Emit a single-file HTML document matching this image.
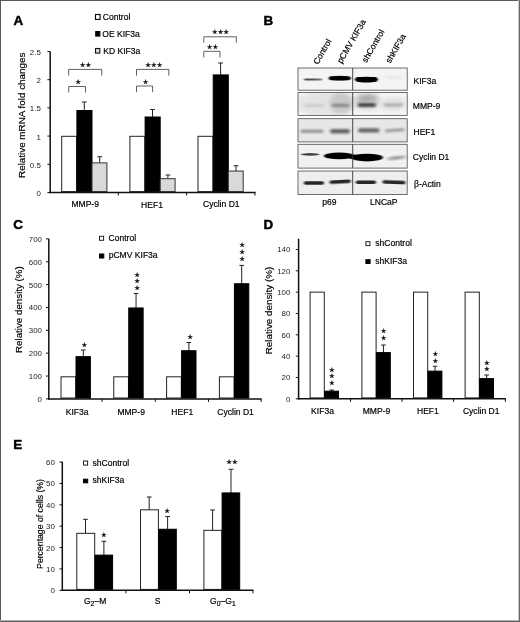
<!DOCTYPE html>
<html><head><meta charset="utf-8"><title>Figure</title>
<style>
html,body{margin:0;padding:0;background:#fff;}
#fig{position:relative;width:520px;height:622px;overflow:hidden;background:#fff;}
.fr{position:absolute;}
svg{display:block;filter:blur(0.35px);}
svg text{font-family:"Liberation Sans", "DejaVu Sans", sans-serif;}
svg text.st{font-family:"DejaVu Sans", sans-serif;}
</style></head>
<body>
<div id="fig">
<svg width="520" height="622" viewBox="0 0 520 622">
<rect x="0" y="0" width="520" height="622" fill="#fff"/>
<text x="13.6" y="25" font-size="13.4" text-anchor="start" font-weight="bold" fill="#000" stroke="#000" stroke-width="0.45">A</text>
<text x="263.4" y="24.7" font-size="13.4" text-anchor="start" font-weight="bold" fill="#000" stroke="#000" stroke-width="0.45">B</text>
<text x="13.2" y="229.2" font-size="13.4" text-anchor="start" font-weight="bold" fill="#000" stroke="#000" stroke-width="0.45">C</text>
<text x="263.4" y="229.2" font-size="13.4" text-anchor="start" font-weight="bold" fill="#000" stroke="#000" stroke-width="0.45">D</text>
<text x="13.2" y="449.2" font-size="13.4" text-anchor="start" font-weight="bold" fill="#000" stroke="#000" stroke-width="0.45">E</text>
<line x1="84.30" y1="102.00" x2="84.30" y2="111.01" stroke="#222" stroke-width="1"/>
<line x1="81.90" y1="102.00" x2="86.70" y2="102.00" stroke="#222" stroke-width="1"/>
<line x1="99.70" y1="156.75" x2="99.70" y2="163.56" stroke="#222" stroke-width="1"/>
<line x1="97.30" y1="156.75" x2="102.10" y2="156.75" stroke="#222" stroke-width="1"/>
<rect x="61.70" y="136.30" width="14.90" height="55.30" fill="#fff" stroke="#222" stroke-width="1"/>
<rect x="76.90" y="110.51" width="15.10" height="81.09" fill="#000" stroke="#000" stroke-width="1"/>
<rect x="92.00" y="162.86" width="14.90" height="28.74" fill="#d9d9d9" stroke="#333" stroke-width="1"/>
<line x1="152.50" y1="109.50" x2="152.50" y2="117.51" stroke="#222" stroke-width="1"/>
<line x1="150.10" y1="109.50" x2="154.90" y2="109.50" stroke="#222" stroke-width="1"/>
<line x1="167.90" y1="175.00" x2="167.90" y2="179.38" stroke="#222" stroke-width="1"/>
<line x1="165.50" y1="175.00" x2="170.30" y2="175.00" stroke="#222" stroke-width="1"/>
<rect x="129.90" y="136.30" width="14.90" height="55.30" fill="#fff" stroke="#222" stroke-width="1"/>
<rect x="145.10" y="117.01" width="15.10" height="74.59" fill="#000" stroke="#000" stroke-width="1"/>
<rect x="160.20" y="178.68" width="14.90" height="12.92" fill="#d9d9d9" stroke="#333" stroke-width="1"/>
<line x1="220.60" y1="63.00" x2="220.60" y2="75.42" stroke="#222" stroke-width="1"/>
<line x1="218.20" y1="63.00" x2="223.00" y2="63.00" stroke="#222" stroke-width="1"/>
<line x1="236.00" y1="165.75" x2="236.00" y2="171.75" stroke="#222" stroke-width="1"/>
<line x1="233.60" y1="165.75" x2="238.40" y2="165.75" stroke="#222" stroke-width="1"/>
<rect x="198.00" y="136.30" width="14.90" height="55.30" fill="#fff" stroke="#222" stroke-width="1"/>
<rect x="213.20" y="74.92" width="15.10" height="116.68" fill="#000" stroke="#000" stroke-width="1"/>
<rect x="228.30" y="171.05" width="14.90" height="20.55" fill="#d9d9d9" stroke="#333" stroke-width="1"/>
<line x1="50.20" y1="51.60" x2="50.20" y2="193.20" stroke="#111" stroke-width="1.5"/>
<line x1="49.50" y1="192.50" x2="255.50" y2="192.50" stroke="#111" stroke-width="1.5"/>
<line x1="47.40" y1="192.50" x2="50.20" y2="192.50" stroke="#111" stroke-width="1"/>
<text x="40.8" y="195.9" font-size="7.9" text-anchor="end" font-weight="normal" fill="#222">0</text>
<line x1="47.40" y1="164.30" x2="50.20" y2="164.30" stroke="#111" stroke-width="1"/>
<text x="40.8" y="167.70000000000002" font-size="7.9" text-anchor="end" font-weight="normal" fill="#222">0.5</text>
<line x1="47.40" y1="136.10" x2="50.20" y2="136.10" stroke="#111" stroke-width="1"/>
<text x="40.8" y="139.5" font-size="7.9" text-anchor="end" font-weight="normal" fill="#222">1</text>
<line x1="47.40" y1="107.90" x2="50.20" y2="107.90" stroke="#111" stroke-width="1"/>
<text x="40.8" y="111.30000000000001" font-size="7.9" text-anchor="end" font-weight="normal" fill="#222">1.5</text>
<line x1="47.40" y1="79.70" x2="50.20" y2="79.70" stroke="#111" stroke-width="1"/>
<text x="40.8" y="83.10000000000001" font-size="7.9" text-anchor="end" font-weight="normal" fill="#222">2</text>
<line x1="47.40" y1="51.50" x2="50.20" y2="51.50" stroke="#111" stroke-width="1"/>
<text x="40.8" y="54.9" font-size="7.9" text-anchor="end" font-weight="normal" fill="#222">2.5</text>
<line x1="118.30" y1="192.50" x2="118.30" y2="195.50" stroke="#111" stroke-width="1"/>
<line x1="186.60" y1="192.50" x2="186.60" y2="195.50" stroke="#111" stroke-width="1"/>
<line x1="255.00" y1="192.50" x2="255.00" y2="195.50" stroke="#111" stroke-width="1"/>
<text x="25.0" y="115.3" font-size="9.85" text-anchor="middle" font-weight="normal" fill="#000" transform="rotate(-90 25.0 115.3)" stroke="#000" stroke-width="0.18">Relative mRNA fold changes</text>
<text x="85.2" y="206.8" font-size="8.55" text-anchor="middle" font-weight="normal" fill="#000" stroke="#000" stroke-width="0.18">MMP-9</text>
<text x="152" y="208" font-size="8.55" text-anchor="middle" font-weight="normal" fill="#000" stroke="#000" stroke-width="0.18">HEF1</text>
<text x="221.3" y="207.3" font-size="8.55" text-anchor="middle" font-weight="normal" fill="#000" stroke="#000" stroke-width="0.18">Cyclin D1</text>
<rect x="95.50" y="14.50" width="4.60" height="4.90" fill="#fff" stroke="#000" stroke-width="1.1"/>
<text x="102.8" y="19.7" font-size="8.55" text-anchor="start" font-weight="normal" fill="#000" stroke="#000" stroke-width="0.18">Control</text>
<rect x="95.70" y="31.50" width="4.20" height="4.60" fill="#000" stroke="#000" stroke-width="1"/>
<text x="102.3" y="36.7" font-size="8.55" text-anchor="start" font-weight="normal" fill="#000" stroke="#000" stroke-width="0.18">OE KIF3a</text>
<rect x="95.50" y="48.50" width="4.30" height="4.60" fill="#d9d9d9" stroke="#111" stroke-width="1.1"/>
<text x="103.2" y="54" font-size="8.55" text-anchor="start" font-weight="normal" fill="#000" stroke="#000" stroke-width="0.18">KD KIF3a</text>
<polyline points="68.70,75.70 68.70,69.40 101.80,69.40 101.80,75.70" fill="none" stroke="#444" stroke-width="0.85"/>
<text x="85.5" y="67.1" font-size="6.4" text-anchor="middle" font-weight="normal" fill="#111" class="st" stroke="#111" stroke-width="0.25">★★</text>
<polyline points="68.70,92.50 68.70,86.50 85.50,86.50 85.50,92.50" fill="none" stroke="#444" stroke-width="0.85"/>
<text x="78" y="84.4" font-size="6.4" text-anchor="middle" font-weight="normal" fill="#111" class="st" stroke="#111" stroke-width="0.25">★</text>
<polyline points="136.50,75.70 136.50,69.40 168.80,69.40 168.80,75.70" fill="none" stroke="#444" stroke-width="0.85"/>
<text x="153.8" y="67.3" font-size="6.4" text-anchor="middle" font-weight="normal" fill="#111" class="st" stroke="#111" stroke-width="0.25">★★★</text>
<polyline points="136.50,92.20 136.50,86.00 152.60,86.00 152.60,92.20" fill="none" stroke="#444" stroke-width="0.85"/>
<text x="145.6" y="83.6" font-size="6.4" text-anchor="middle" font-weight="normal" fill="#111" class="st" stroke="#111" stroke-width="0.25">★</text>
<polyline points="203.80,42.60 203.80,36.80 236.30,36.80 236.30,42.60" fill="none" stroke="#444" stroke-width="0.85"/>
<text x="220.5" y="34.0" font-size="6.4" text-anchor="middle" font-weight="normal" fill="#111" class="st" stroke="#111" stroke-width="0.25">★★★</text>
<polyline points="203.80,57.50 203.80,51.30 220.00,51.30 220.00,57.50" fill="none" stroke="#444" stroke-width="0.85"/>
<text x="212.5" y="48.8" font-size="6.4" text-anchor="middle" font-weight="normal" fill="#111" class="st" stroke="#111" stroke-width="0.25">★★</text>
<defs><filter id="b1" x="-20%" y="-100%" width="140%" height="300%"><feGaussianBlur stdDeviation="0.9 0.7"/></filter><filter id="b2" x="-20%" y="-100%" width="140%" height="300%"><feGaussianBlur stdDeviation="1.6 1.2"/></filter><filter id="b3" x="-30%" y="-100%" width="160%" height="300%"><feGaussianBlur stdDeviation="2.5 2.2"/></filter></defs>
<clipPath id="c0"><rect x="298" y="68" width="109.19999999999999" height="22.200000000000003"/></clipPath>
<rect x="298" y="68" width="109.19999999999999" height="22.200000000000003" fill="#f4f4f4"/>
<g clip-path="url(#c0)">
<rect x="304.0" y="78.50" width="18.0" height="2.0" rx="1.0" fill="#333" opacity="0.85" filter="url(#b1)"/>
<ellipse cx="318.5" cy="79.50" rx="4.5" ry="0.8" fill="#f4f4f4" opacity="0.5" filter="url(#b2)"/>
<rect x="329.0" y="76.30" width="21.4" height="4.0" rx="2.0" fill="#000" opacity="1" filter="url(#b1)"/>
<ellipse cx="339.8" cy="78.20" rx="10.2" ry="2.4" fill="#000" opacity="0.9" filter="url(#b1)"/>
<rect x="355.5" y="77.10" width="21.9" height="4.8" rx="2.4" fill="#000" opacity="1" filter="url(#b1)"/>
<ellipse cx="366.4" cy="79.60" rx="10.9" ry="2.9" fill="#000" opacity="1" filter="url(#b1)"/>
<rect x="386.0" y="76.70" width="16.0" height="1.4" rx="0.7" fill="#999" opacity="0.3" filter="url(#b2)"/>
</g>
<rect x="298" y="68" width="109.19999999999999" height="22.200000000000003" fill="none" stroke="#555" stroke-width="0.85"/>
<line x1="352.70" y1="68.00" x2="352.70" y2="90.20" stroke="#333" stroke-width="0.9"/>
<clipPath id="c1"><rect x="298" y="92.5" width="109.19999999999999" height="22.900000000000006"/></clipPath>
<rect x="298" y="92.5" width="109.19999999999999" height="22.900000000000006" fill="#f4f4f4"/>
<g clip-path="url(#c1)">
<ellipse cx="326.0" cy="104.00" rx="30.0" ry="13.0" fill="#d8d8d8" opacity="0.55" filter="url(#b3)"/>
<ellipse cx="341.5" cy="103.00" rx="11.5" ry="11.0" fill="#b0b0b0" opacity="0.55" filter="url(#b3)"/>
<ellipse cx="367.5" cy="101.00" rx="12.5" ry="9.0" fill="#b8b8b8" opacity="0.55" filter="url(#b3)"/>
<ellipse cx="393.0" cy="104.00" rx="13.0" ry="7.0" fill="#d0d0d0" opacity="0.5" filter="url(#b3)"/>
<rect x="305.0" y="104.30" width="19.0" height="2.4" rx="1.2" fill="#aaa" opacity="0.5" filter="url(#b2)"/>
<rect x="331.5" y="103.80" width="18.0" height="3.2" rx="1.6" fill="#707070" opacity="0.7" filter="url(#b2)"/>
<rect x="357.5" y="103.10" width="18.5" height="3.8" rx="1.9" fill="#333" opacity="0.85" filter="url(#b2)"/>
<ellipse cx="367.0" cy="98.40" rx="10.0" ry="2.75" fill="#777" opacity="0.55" filter="url(#b3)"/>
<rect x="384.0" y="103.60" width="19.0" height="2.8" rx="1.4" fill="#888" opacity="0.6" filter="url(#b2)"/>
</g>
<rect x="298" y="92.5" width="109.19999999999999" height="22.900000000000006" fill="none" stroke="#555" stroke-width="0.85"/>
<line x1="352.70" y1="92.50" x2="352.70" y2="115.40" stroke="#333" stroke-width="0.9"/>
<clipPath id="c2"><rect x="298" y="118.7" width="109.19999999999999" height="23.200000000000003"/></clipPath>
<rect x="298" y="118.7" width="109.19999999999999" height="23.200000000000003" fill="#e7e7e7"/>
<g clip-path="url(#c2)">
<rect x="300.5" y="129.80" width="23.0" height="3.0" rx="1.5" fill="#666" opacity="0.7" filter="url(#b2)"/>
<rect x="330.0" y="128.90" width="20.0" height="4.6" rx="2.3" fill="#444" opacity="0.8" filter="url(#b2)"/>
<rect x="358.0" y="128.30" width="21.5" height="4.2" rx="2.1" fill="#444" opacity="0.8" filter="url(#b2)"/>
<rect x="385.0" y="129.00" width="19.5" height="2.4" rx="1.2" fill="#666" opacity="0.7" filter="url(#b2)" transform="rotate(-4 394.75 130.2)"/>
</g>
<rect x="298" y="118.7" width="109.19999999999999" height="23.200000000000003" fill="none" stroke="#555" stroke-width="0.85"/>
<line x1="352.70" y1="118.70" x2="352.70" y2="141.90" stroke="#333" stroke-width="0.9"/>
<clipPath id="c3"><rect x="298" y="144.3" width="109.19999999999999" height="23.799999999999983"/></clipPath>
<rect x="298" y="144.3" width="109.19999999999999" height="23.799999999999983" fill="#f1f1f1"/>
<g clip-path="url(#c3)">
<ellipse cx="310.2" cy="154.40" rx="9.2" ry="1.3" fill="#222" opacity="0.85" filter="url(#b1)"/>
<ellipse cx="339.2" cy="155.90" rx="15.2" ry="3.4" fill="#000" opacity="1" filter="url(#b1)"/>
<ellipse cx="338.5" cy="155.90" rx="11.5" ry="2.7" fill="#000" opacity="1" filter="url(#b1)"/>
<ellipse cx="367.0" cy="157.60" rx="16.0" ry="3.9" fill="#000" opacity="1" filter="url(#b1)"/>
<ellipse cx="366.0" cy="157.60" rx="12.0" ry="3.1" fill="#000" opacity="1" filter="url(#b1)"/>
<rect x="348.0" y="154.80" width="10.0" height="4.0" rx="2.0" fill="#000" opacity="1" filter="url(#b1)"/>
<ellipse cx="396.5" cy="157.90" rx="10.0" ry="1.3" fill="#555" opacity="0.75" filter="url(#b2)" transform="rotate(-6 396.5 157.9)"/>
</g>
<rect x="298" y="144.3" width="109.19999999999999" height="23.799999999999983" fill="none" stroke="#555" stroke-width="0.85"/>
<line x1="352.70" y1="144.30" x2="352.70" y2="168.10" stroke="#333" stroke-width="0.9"/>
<clipPath id="c4"><rect x="298" y="171" width="109.19999999999999" height="23.5"/></clipPath>
<rect x="298" y="171" width="109.19999999999999" height="23.5" fill="#eeeeee"/>
<g clip-path="url(#c4)">
<rect x="303.8" y="181.15" width="20.2" height="3.5" rx="1.75" fill="#1a1a1a" opacity="0.95" filter="url(#b1)"/>
<rect x="329.5" y="180.05" width="21.3" height="3.5" rx="1.75" fill="#1a1a1a" opacity="0.95" filter="url(#b1)" transform="rotate(-3 340.15 181.8)"/>
<rect x="355.8" y="180.55" width="20.2" height="3.5" rx="1.75" fill="#1a1a1a" opacity="0.95" filter="url(#b1)"/>
<rect x="382.5" y="180.60" width="22.9" height="3.4" rx="1.7" fill="#1a1a1a" opacity="0.95" filter="url(#b1)" transform="rotate(2 393.95 182.3)"/>
</g>
<rect x="298" y="171" width="109.19999999999999" height="23.5" fill="none" stroke="#555" stroke-width="0.85"/>
<line x1="352.70" y1="171.00" x2="352.70" y2="194.50" stroke="#333" stroke-width="0.9"/>
<text x="318.0" y="65.0" font-size="8.55" text-anchor="start" font-weight="normal" fill="#000" transform="rotate(-60 318.0 65.0)" stroke="#000" stroke-width="0.18">Control</text>
<text x="341.7" y="64.0" font-size="8.55" text-anchor="start" font-weight="normal" fill="#000" transform="rotate(-60 341.7 64.0)" stroke="#000" stroke-width="0.18">pCMV KIF3a</text>
<text x="366.5" y="63.3" font-size="8.55" text-anchor="start" font-weight="normal" fill="#000" transform="rotate(-60 366.5 63.3)" stroke="#000" stroke-width="0.18">shControl</text>
<text x="390.3" y="63.8" font-size="8.55" text-anchor="start" font-weight="normal" fill="#000" transform="rotate(-60 390.3 63.8)" stroke="#000" stroke-width="0.18">shKIF3a</text>
<text x="413.5" y="83.6" font-size="8.55" text-anchor="start" font-weight="normal" fill="#000" stroke="#000" stroke-width="0.18">KIF3a</text>
<text x="412.8" y="109" font-size="8.55" text-anchor="start" font-weight="normal" fill="#000" stroke="#000" stroke-width="0.18">MMP-9</text>
<text x="413.5" y="135" font-size="8.55" text-anchor="start" font-weight="normal" fill="#000" stroke="#000" stroke-width="0.18">HEF1</text>
<text x="412.8" y="160.2" font-size="8.55" text-anchor="start" font-weight="normal" fill="#000" stroke="#000" stroke-width="0.18">Cyclin D1</text>
<text x="414" y="186.5" font-size="8.55" text-anchor="start" font-weight="normal" fill="#000" stroke="#000" stroke-width="0.18">β-Actin</text>
<text x="329.4" y="205" font-size="8.55" text-anchor="middle" font-weight="normal" fill="#000" stroke="#000" stroke-width="0.18">p69</text>
<text x="383.8" y="205" font-size="8.55" text-anchor="middle" font-weight="normal" fill="#000" stroke="#000" stroke-width="0.18">LNCaP</text>
<line x1="83.30" y1="350.00" x2="83.30" y2="357.15" stroke="#222" stroke-width="1"/>
<line x1="81.00" y1="350.00" x2="85.60" y2="350.00" stroke="#222" stroke-width="1"/>
<rect x="61.00" y="376.81" width="14.70" height="21.19" fill="#fff" stroke="#222" stroke-width="1"/>
<rect x="76.00" y="356.65" width="14.40" height="41.35" fill="#000" stroke="#000" stroke-width="1"/>
<line x1="136.05" y1="293.50" x2="136.05" y2="308.46" stroke="#222" stroke-width="1"/>
<line x1="133.75" y1="293.50" x2="138.35" y2="293.50" stroke="#222" stroke-width="1"/>
<rect x="113.75" y="376.81" width="14.70" height="21.19" fill="#fff" stroke="#222" stroke-width="1"/>
<rect x="128.75" y="307.96" width="14.40" height="90.04" fill="#000" stroke="#000" stroke-width="1"/>
<line x1="188.90" y1="342.50" x2="188.90" y2="351.21" stroke="#222" stroke-width="1"/>
<line x1="186.60" y1="342.50" x2="191.20" y2="342.50" stroke="#222" stroke-width="1"/>
<rect x="166.60" y="376.81" width="14.70" height="21.19" fill="#fff" stroke="#222" stroke-width="1"/>
<rect x="181.60" y="350.71" width="14.40" height="47.29" fill="#000" stroke="#000" stroke-width="1"/>
<line x1="241.70" y1="265.40" x2="241.70" y2="284.23" stroke="#222" stroke-width="1"/>
<line x1="239.40" y1="265.40" x2="244.00" y2="265.40" stroke="#222" stroke-width="1"/>
<rect x="219.40" y="376.81" width="14.70" height="21.19" fill="#fff" stroke="#222" stroke-width="1"/>
<rect x="234.40" y="283.73" width="14.40" height="114.27" fill="#000" stroke="#000" stroke-width="1"/>
<line x1="48.80" y1="238.70" x2="48.80" y2="399.60" stroke="#111" stroke-width="1.5"/>
<line x1="48.10" y1="398.90" x2="261.50" y2="398.90" stroke="#111" stroke-width="1.5"/>
<line x1="46.00" y1="398.90" x2="48.80" y2="398.90" stroke="#111" stroke-width="1"/>
<text x="42" y="401.79999999999995" font-size="7.9" text-anchor="end" font-weight="normal" fill="#222">0</text>
<line x1="46.00" y1="376.04" x2="48.80" y2="376.04" stroke="#111" stroke-width="1"/>
<text x="42" y="378.93999999999994" font-size="7.9" text-anchor="end" font-weight="normal" fill="#222">100</text>
<line x1="46.00" y1="353.18" x2="48.80" y2="353.18" stroke="#111" stroke-width="1"/>
<text x="42" y="356.0799999999999" font-size="7.9" text-anchor="end" font-weight="normal" fill="#222">200</text>
<line x1="46.00" y1="330.32" x2="48.80" y2="330.32" stroke="#111" stroke-width="1"/>
<text x="42" y="333.21999999999997" font-size="7.9" text-anchor="end" font-weight="normal" fill="#222">300</text>
<line x1="46.00" y1="307.46" x2="48.80" y2="307.46" stroke="#111" stroke-width="1"/>
<text x="42" y="310.35999999999996" font-size="7.9" text-anchor="end" font-weight="normal" fill="#222">400</text>
<line x1="46.00" y1="284.60" x2="48.80" y2="284.60" stroke="#111" stroke-width="1"/>
<text x="42" y="287.49999999999994" font-size="7.9" text-anchor="end" font-weight="normal" fill="#222">500</text>
<line x1="46.00" y1="261.74" x2="48.80" y2="261.74" stroke="#111" stroke-width="1"/>
<text x="42" y="264.64" font-size="7.9" text-anchor="end" font-weight="normal" fill="#222">600</text>
<line x1="46.00" y1="238.88" x2="48.80" y2="238.88" stroke="#111" stroke-width="1"/>
<text x="42" y="241.78" font-size="7.9" text-anchor="end" font-weight="normal" fill="#222">700</text>
<line x1="102.00" y1="398.90" x2="102.00" y2="401.90" stroke="#111" stroke-width="1"/>
<line x1="155.30" y1="398.90" x2="155.30" y2="401.90" stroke="#111" stroke-width="1"/>
<line x1="208.50" y1="398.90" x2="208.50" y2="401.90" stroke="#111" stroke-width="1"/>
<line x1="261.20" y1="398.90" x2="261.20" y2="401.90" stroke="#111" stroke-width="1"/>
<text x="21.8" y="309.6" font-size="9.75" text-anchor="middle" font-weight="normal" fill="#000" transform="rotate(-90 21.8 309.6)" stroke="#000" stroke-width="0.18">Relative density (%)</text>
<text x="77.15" y="415.3" font-size="8.55" text-anchor="middle" font-weight="normal" fill="#000" stroke="#000" stroke-width="0.18">KIF3a</text>
<text x="131.15" y="415.3" font-size="8.55" text-anchor="middle" font-weight="normal" fill="#000" stroke="#000" stroke-width="0.18">MMP-9</text>
<text x="182.25" y="415.3" font-size="8.55" text-anchor="middle" font-weight="normal" fill="#000" stroke="#000" stroke-width="0.18">HEF1</text>
<text x="235.6" y="415.3" font-size="8.55" text-anchor="middle" font-weight="normal" fill="#000" stroke="#000" stroke-width="0.18">Cyclin D1</text>
<rect x="99.50" y="236.30" width="4.10" height="4.00" fill="#fff" stroke="#222" stroke-width="1"/>
<text x="108.5" y="240.6" font-size="8.55" text-anchor="start" font-weight="normal" fill="#000" stroke="#000" stroke-width="0.18">Control</text>
<rect x="99.50" y="254.00" width="4.30" height="4.00" fill="#000" stroke="#000" stroke-width="1"/>
<text x="108.7" y="258.2" font-size="8.55" text-anchor="start" font-weight="normal" fill="#000" stroke="#000" stroke-width="0.18">pCMV KIF3a</text>
<text x="84.25" y="346.5" font-size="6.4" text-anchor="middle" font-weight="normal" fill="#111" class="st" stroke="#111" stroke-width="0.25">★</text>
<text x="137" y="276.5" font-size="6.4" text-anchor="middle" font-weight="normal" fill="#111" class="st" stroke="#111" stroke-width="0.25">★</text>
<text x="137" y="283.4" font-size="6.4" text-anchor="middle" font-weight="normal" fill="#111" class="st" stroke="#111" stroke-width="0.25">★</text>
<text x="137" y="290.2" font-size="6.4" text-anchor="middle" font-weight="normal" fill="#111" class="st" stroke="#111" stroke-width="0.25">★</text>
<text x="190" y="339.0" font-size="6.4" text-anchor="middle" font-weight="normal" fill="#111" class="st" stroke="#111" stroke-width="0.25">★</text>
<text x="242.1" y="247.4" font-size="6.4" text-anchor="middle" font-weight="normal" fill="#111" class="st" stroke="#111" stroke-width="0.25">★</text>
<text x="242.1" y="254.4" font-size="6.4" text-anchor="middle" font-weight="normal" fill="#111" class="st" stroke="#111" stroke-width="0.25">★</text>
<text x="242.1" y="261.2" font-size="6.4" text-anchor="middle" font-weight="normal" fill="#111" class="st" stroke="#111" stroke-width="0.25">★</text>
<line x1="331.65" y1="390.00" x2="331.65" y2="391.69" stroke="#222" stroke-width="1"/>
<line x1="329.35" y1="390.00" x2="333.95" y2="390.00" stroke="#222" stroke-width="1"/>
<rect x="310.10" y="292.13" width="14.20" height="105.77" fill="#fff" stroke="#222" stroke-width="1"/>
<rect x="324.60" y="391.19" width="13.90" height="6.71" fill="#000" stroke="#000" stroke-width="1"/>
<text x="331.85" y="371.5" font-size="6.4" text-anchor="middle" font-weight="normal" fill="#111" class="st" stroke="#111" stroke-width="0.25">★</text>
<text x="331.85" y="378.25" font-size="6.4" text-anchor="middle" font-weight="normal" fill="#111" class="st" stroke="#111" stroke-width="0.25">★</text>
<text x="331.85" y="385.0" font-size="6.4" text-anchor="middle" font-weight="normal" fill="#111" class="st" stroke="#111" stroke-width="0.25">★</text>
<line x1="383.45" y1="345.00" x2="383.45" y2="353.09" stroke="#222" stroke-width="1"/>
<line x1="381.15" y1="345.00" x2="385.75" y2="345.00" stroke="#222" stroke-width="1"/>
<rect x="361.90" y="292.13" width="14.20" height="105.77" fill="#fff" stroke="#222" stroke-width="1"/>
<rect x="376.40" y="352.59" width="13.90" height="45.31" fill="#000" stroke="#000" stroke-width="1"/>
<text x="383.65" y="333.25" font-size="6.4" text-anchor="middle" font-weight="normal" fill="#111" class="st" stroke="#111" stroke-width="0.25">★</text>
<text x="383.65" y="340.0" font-size="6.4" text-anchor="middle" font-weight="normal" fill="#111" class="st" stroke="#111" stroke-width="0.25">★</text>
<line x1="435.05" y1="366.25" x2="435.05" y2="371.64" stroke="#222" stroke-width="1"/>
<line x1="432.75" y1="366.25" x2="437.35" y2="366.25" stroke="#222" stroke-width="1"/>
<rect x="413.50" y="292.13" width="14.20" height="105.77" fill="#fff" stroke="#222" stroke-width="1"/>
<rect x="428.00" y="371.14" width="13.90" height="26.76" fill="#000" stroke="#000" stroke-width="1"/>
<text x="435.25" y="355.75" font-size="6.4" text-anchor="middle" font-weight="normal" fill="#111" class="st" stroke="#111" stroke-width="0.25">★</text>
<text x="435.25" y="362.75" font-size="6.4" text-anchor="middle" font-weight="normal" fill="#111" class="st" stroke="#111" stroke-width="0.25">★</text>
<line x1="486.65" y1="375.00" x2="486.65" y2="379.11" stroke="#222" stroke-width="1"/>
<line x1="484.35" y1="375.00" x2="488.95" y2="375.00" stroke="#222" stroke-width="1"/>
<rect x="465.10" y="292.13" width="14.20" height="105.77" fill="#fff" stroke="#222" stroke-width="1"/>
<rect x="479.60" y="378.61" width="13.90" height="19.29" fill="#000" stroke="#000" stroke-width="1"/>
<text x="486.85" y="364.5" font-size="6.4" text-anchor="middle" font-weight="normal" fill="#111" class="st" stroke="#111" stroke-width="0.25">★</text>
<text x="486.85" y="371.25" font-size="6.4" text-anchor="middle" font-weight="normal" fill="#111" class="st" stroke="#111" stroke-width="0.25">★</text>
<line x1="298.60" y1="238.70" x2="298.60" y2="399.50" stroke="#111" stroke-width="1.5"/>
<line x1="297.90" y1="398.80" x2="505.80" y2="398.80" stroke="#111" stroke-width="1.5"/>
<line x1="295.80" y1="398.80" x2="298.60" y2="398.80" stroke="#111" stroke-width="1"/>
<text x="290.4" y="401.7" font-size="7.9" text-anchor="end" font-weight="normal" fill="#222">0</text>
<line x1="295.80" y1="377.47" x2="298.60" y2="377.47" stroke="#111" stroke-width="1"/>
<text x="290.4" y="380.37" font-size="7.9" text-anchor="end" font-weight="normal" fill="#222">20</text>
<line x1="295.80" y1="356.14" x2="298.60" y2="356.14" stroke="#111" stroke-width="1"/>
<text x="290.4" y="359.03999999999996" font-size="7.9" text-anchor="end" font-weight="normal" fill="#222">40</text>
<line x1="295.80" y1="334.81" x2="298.60" y2="334.81" stroke="#111" stroke-width="1"/>
<text x="290.4" y="337.71" font-size="7.9" text-anchor="end" font-weight="normal" fill="#222">60</text>
<line x1="295.80" y1="313.48" x2="298.60" y2="313.48" stroke="#111" stroke-width="1"/>
<text x="290.4" y="316.38" font-size="7.9" text-anchor="end" font-weight="normal" fill="#222">80</text>
<line x1="295.80" y1="292.15" x2="298.60" y2="292.15" stroke="#111" stroke-width="1"/>
<text x="290.4" y="295.05" font-size="7.9" text-anchor="end" font-weight="normal" fill="#222">100</text>
<line x1="295.80" y1="270.82" x2="298.60" y2="270.82" stroke="#111" stroke-width="1"/>
<text x="290.4" y="273.72" font-size="7.9" text-anchor="end" font-weight="normal" fill="#222">120</text>
<line x1="295.80" y1="249.49" x2="298.60" y2="249.49" stroke="#111" stroke-width="1"/>
<text x="290.4" y="252.39000000000001" font-size="7.9" text-anchor="end" font-weight="normal" fill="#222">140</text>
<line x1="350.50" y1="398.80" x2="350.50" y2="401.80" stroke="#111" stroke-width="1"/>
<line x1="402.00" y1="398.80" x2="402.00" y2="401.80" stroke="#111" stroke-width="1"/>
<line x1="453.50" y1="398.80" x2="453.50" y2="401.80" stroke="#111" stroke-width="1"/>
<line x1="505.40" y1="398.80" x2="505.40" y2="401.80" stroke="#111" stroke-width="1"/>
<text x="272.4" y="310.5" font-size="9.85" text-anchor="middle" font-weight="normal" fill="#000" transform="rotate(-90 272.4 310.5)" stroke="#000" stroke-width="0.18">Relative density (%)</text>
<text x="322.5" y="414.4" font-size="8.55" text-anchor="middle" font-weight="normal" fill="#000" stroke="#000" stroke-width="0.18">KIF3a</text>
<text x="376.5" y="414.4" font-size="8.55" text-anchor="middle" font-weight="normal" fill="#000" stroke="#000" stroke-width="0.18">MMP-9</text>
<text x="427.9" y="414.4" font-size="8.55" text-anchor="middle" font-weight="normal" fill="#000" stroke="#000" stroke-width="0.18">HEF1</text>
<text x="481.2" y="414.4" font-size="8.55" text-anchor="middle" font-weight="normal" fill="#000" stroke="#000" stroke-width="0.18">Cyclin D1</text>
<rect x="365.90" y="241.70" width="4.00" height="3.90" fill="#fff" stroke="#222" stroke-width="1"/>
<text x="375.25" y="246.1" font-size="8.55" text-anchor="start" font-weight="normal" fill="#000" stroke="#000" stroke-width="0.18">shControl</text>
<rect x="365.90" y="259.70" width="4.20" height="3.80" fill="#000" stroke="#000" stroke-width="1"/>
<text x="375.25" y="264.3" font-size="8.55" text-anchor="start" font-weight="normal" fill="#000" stroke="#000" stroke-width="0.18">shKIF3a</text>
<line x1="85.50" y1="519.30" x2="85.50" y2="534.03" stroke="#222" stroke-width="1"/>
<line x1="83.10" y1="519.30" x2="87.90" y2="519.30" stroke="#222" stroke-width="1"/>
<line x1="103.90" y1="541.30" x2="103.90" y2="555.61" stroke="#222" stroke-width="1"/>
<line x1="101.50" y1="541.30" x2="106.30" y2="541.30" stroke="#222" stroke-width="1"/>
<rect x="76.80" y="533.33" width="17.90" height="56.07" fill="#fff" stroke="#222" stroke-width="1"/>
<rect x="95.00" y="555.11" width="17.60" height="34.29" fill="#000" stroke="#000" stroke-width="1"/>
<line x1="149.20" y1="497.00" x2="149.20" y2="510.52" stroke="#222" stroke-width="1"/>
<line x1="146.80" y1="497.00" x2="151.60" y2="497.00" stroke="#222" stroke-width="1"/>
<line x1="167.60" y1="516.60" x2="167.60" y2="529.75" stroke="#222" stroke-width="1"/>
<line x1="165.20" y1="516.60" x2="170.00" y2="516.60" stroke="#222" stroke-width="1"/>
<rect x="140.50" y="509.82" width="17.90" height="79.58" fill="#fff" stroke="#222" stroke-width="1"/>
<rect x="158.70" y="529.25" width="17.60" height="60.15" fill="#000" stroke="#000" stroke-width="1"/>
<line x1="212.60" y1="510.00" x2="212.60" y2="531.04" stroke="#222" stroke-width="1"/>
<line x1="210.20" y1="510.00" x2="215.00" y2="510.00" stroke="#222" stroke-width="1"/>
<line x1="231.00" y1="469.30" x2="231.00" y2="493.43" stroke="#222" stroke-width="1"/>
<line x1="228.60" y1="469.30" x2="233.40" y2="469.30" stroke="#222" stroke-width="1"/>
<rect x="203.90" y="530.34" width="17.90" height="59.06" fill="#fff" stroke="#222" stroke-width="1"/>
<rect x="222.10" y="492.93" width="17.60" height="96.47" fill="#000" stroke="#000" stroke-width="1"/>
<line x1="62.30" y1="461.70" x2="62.30" y2="591.00" stroke="#111" stroke-width="1.5"/>
<line x1="61.60" y1="590.30" x2="253.50" y2="590.30" stroke="#111" stroke-width="1.5"/>
<line x1="59.50" y1="590.30" x2="62.30" y2="590.30" stroke="#111" stroke-width="1"/>
<text x="54.8" y="593.3" font-size="7.9" text-anchor="end" font-weight="normal" fill="#222">0</text>
<line x1="59.50" y1="568.93" x2="62.30" y2="568.93" stroke="#111" stroke-width="1"/>
<text x="54.8" y="571.93" font-size="7.9" text-anchor="end" font-weight="normal" fill="#222">10</text>
<line x1="59.50" y1="547.56" x2="62.30" y2="547.56" stroke="#111" stroke-width="1"/>
<text x="54.8" y="550.56" font-size="7.9" text-anchor="end" font-weight="normal" fill="#222">20</text>
<line x1="59.50" y1="526.19" x2="62.30" y2="526.19" stroke="#111" stroke-width="1"/>
<text x="54.8" y="529.1899999999999" font-size="7.9" text-anchor="end" font-weight="normal" fill="#222">30</text>
<line x1="59.50" y1="504.82" x2="62.30" y2="504.82" stroke="#111" stroke-width="1"/>
<text x="54.8" y="507.81999999999994" font-size="7.9" text-anchor="end" font-weight="normal" fill="#222">40</text>
<line x1="59.50" y1="483.45" x2="62.30" y2="483.45" stroke="#111" stroke-width="1"/>
<text x="54.8" y="486.44999999999993" font-size="7.9" text-anchor="end" font-weight="normal" fill="#222">50</text>
<line x1="59.50" y1="462.08" x2="62.30" y2="462.08" stroke="#111" stroke-width="1"/>
<text x="54.8" y="465.0799999999999" font-size="7.9" text-anchor="end" font-weight="normal" fill="#222">60</text>
<line x1="125.90" y1="590.30" x2="125.90" y2="593.30" stroke="#111" stroke-width="1"/>
<line x1="189.50" y1="590.30" x2="189.50" y2="593.30" stroke="#111" stroke-width="1"/>
<line x1="253.00" y1="590.30" x2="253.00" y2="593.30" stroke="#111" stroke-width="1"/>
<text x="43.1" y="524" font-size="8.7" text-anchor="middle" font-weight="normal" fill="#000" transform="rotate(-90 43.1 524)" stroke="#000" stroke-width="0.18">Percentage of cells (%)</text>
<text x="95.1" y="603.6" font-size="8.55" text-anchor="middle" fill="#000" stroke="#000" stroke-width="0.18">G<tspan font-size="6.8" dy="2.4">2</tspan><tspan dy="-2.4">–M</tspan></text>
<text x="157.5" y="603.7" font-size="8.55" text-anchor="middle" font-weight="normal" fill="#000" stroke="#000" stroke-width="0.18">S</text>
<text x="222.9" y="603.7" font-size="8.55" text-anchor="middle" fill="#000" stroke="#000" stroke-width="0.18">G<tspan font-size="6.8" dy="2.4">0</tspan><tspan dy="-2.4">–G</tspan><tspan font-size="6.8" dy="2.4">1</tspan></text>
<rect x="83.50" y="461.00" width="4.10" height="4.10" fill="#fff" stroke="#222" stroke-width="1"/>
<text x="92.5" y="465.7" font-size="8.55" text-anchor="start" font-weight="normal" fill="#000" stroke="#000" stroke-width="0.18">shControl</text>
<rect x="83.50" y="479.20" width="4.20" height="3.60" fill="#000" stroke="#000" stroke-width="1"/>
<text x="92.5" y="483" font-size="8.55" text-anchor="start" font-weight="normal" fill="#000" stroke="#000" stroke-width="0.18">shKIF3a</text>
<text x="103.75" y="537.0" font-size="6.4" text-anchor="middle" font-weight="normal" fill="#111" class="st" stroke="#111" stroke-width="0.25">★</text>
<text x="167" y="512.5" font-size="6.4" text-anchor="middle" font-weight="normal" fill="#111" class="st" stroke="#111" stroke-width="0.25">★</text>
<text x="232" y="464.0" font-size="6.4" text-anchor="middle" font-weight="normal" fill="#111" class="st" stroke="#111" stroke-width="0.25">★★</text>
</svg>
<div class="fr" style="left:0;top:0;width:1px;height:622px;background:#585858"></div><div class="fr" style="left:0;top:0;width:520px;height:1px;background:#585858"></div><div class="fr" style="left:518px;top:0;width:1px;height:622px;background:#c8c8c8"></div><div class="fr" style="left:0;top:620px;width:520px;height:1px;background:#b0b0b0"></div><div class="fr" style="left:519px;top:0;width:1px;height:622px;background:#666"></div><div class="fr" style="left:0;top:621px;width:520px;height:1px;background:#606060"></div>
</div>
</body></html>
